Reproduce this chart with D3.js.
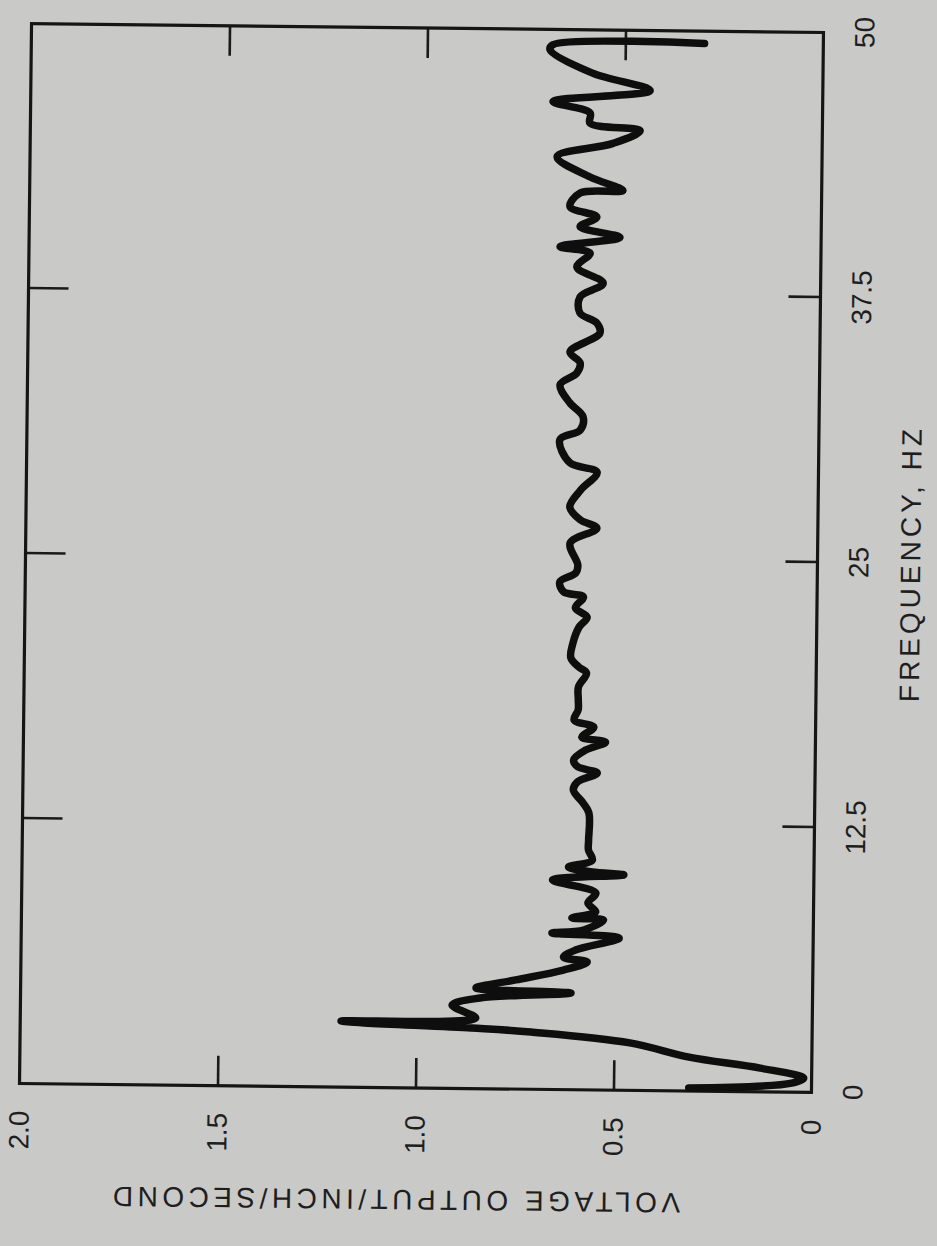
<!DOCTYPE html>
<html>
<head>
<meta charset="utf-8">
<script src="https://d3js.org/d3.v7.min.js"></script>
<style>
  body { margin: 0; background: #c9c9c7; }
  text { font-family: "Liberation Sans", Arial, sans-serif; fill: #1e1e1e; }
</style>
</head>
<body>
<div id="chart"></div>
<script>

// spectrum trace (frequency in Hz, voltage output per inch/second)
var freqHz = [0.15, 0.43, 0.67, 1.12, 1.6, 2.24, 2.7, 2.86, 3.12, 3.33,
  3.93, 4.28, 4.56, 4.75, 5.15, 5.64, 6.03, 6.25, 6.59, 7.18,
  7.38, 7.54, 8.02, 8.1, 8.4, 8.82, 9.29, 9.88, 10.16, 10.28,
  10.5, 10.84, 11.31, 11.78, 13.06, 13.53, 14.14, 14.52, 14.95, 15.24,
  15.56, 16.03, 16.41, 16.64, 17.11, 17.44, 17.92, 18.39, 19.0, 19.66,
  19.95, 20.37, 21.08, 21.83, 22.3, 22.73, 23.25, 23.48, 23.95, 24.38,
  24.75, 25.79, 26.5, 26.88, 27.49, 28.29, 29.14, 29.57, 30.65, 31.12,
  31.74, 32.4, 33.25, 33.81, 34.29, 34.8, 35.7, 36.18, 36.64, 37.4,
  38.06, 38.81, 39.47, 39.76, 40.23, 40.71, 41.18, 41.65, 42.3, 42.44,
  43.06, 44.0, 44.66, 45.27, 45.6, 46.08, 46.6, 47.17, 47.96, 49.04,
  49.28, 49.42];
var voltage = [0.31, 0.05, 0.02, 0.13, 0.31, 0.46, 0.71, 0.86, 1.19, 0.85,
  0.91, 0.84, 0.61, 0.85, 0.75, 0.63, 0.57, 0.63, 0.60, 0.49,
  0.66, 0.58, 0.53, 0.61, 0.55, 0.57, 0.55, 0.66, 0.48, 0.56,
  0.62, 0.56, 0.57, 0.57, 0.57, 0.585, 0.61, 0.60, 0.55, 0.60,
  0.61, 0.58, 0.53, 0.59, 0.56, 0.61, 0.60, 0.60, 0.60, 0.58,
  0.60, 0.62, 0.615, 0.60, 0.58, 0.61, 0.59, 0.64, 0.65, 0.61,
  0.605, 0.625, 0.558, 0.60, 0.627, 0.60, 0.559, 0.628, 0.654, 0.603,
  0.596, 0.63, 0.655, 0.613, 0.605, 0.631, 0.556, 0.564, 0.607, 0.607,
  0.549, 0.616, 0.583, 0.659, 0.508, 0.609, 0.567, 0.635, 0.61, 0.502,
  0.585, 0.669, 0.528, 0.46, 0.587, 0.587, 0.681, 0.436, 0.582, 0.69,
  0.683, 0.30];

var freqTicks = [0, 12.5, 25, 37.5, 50];
var freqLabels = ["0", "12.5", "25", "37.5", "50"];
var voltTicks = [0, 0.5, 1.0, 1.5, 2.0];
var voltLabels = ["0", "0.5", "1.0", "1.5", "2.0"];

var data = freqHz.map(function(f, i) { return {f: f, v: voltage[i]}; });

// the printed page is turned on its side, so the chart is drawn normally
// and the whole group is rotated (plus a slight scan skew)
var width = 1060, height = 792;
var left = 25.5, bottom = 1088;

var svg = d3.select("#chart")
  .append("svg")
    .attr("width", 937)
    .attr("height", 1246);

svg.append("rect")
  .attr("width", 937).attr("height", 1246)
  .attr("fill", "#c9c9c7");

var g = svg.append("g")
    .attr("transform", "rotate(0.65,421.5,558) translate(" + left + "," + bottom + ") rotate(-90)");

var x = d3.scaleLinear().domain([0, 50]).range([0, width]);
var y = d3.scaleLinear().domain([0, 2]).range([height, 0]);

// frequency axis with labels
var xAxis = g.append("g")
  .attr("transform", "translate(0," + height + ")")
  .call(d3.axisBottom(x)
    .tickValues(freqTicks)
    .tickFormat(function(d, i) { return freqLabels[i]; })
    .tickSize(-32)
    .tickSizeOuter(0)
    .tickPadding(31));
// mirror ticks on the opposite edge
var xTop = g.append("g")
  .call(d3.axisTop(x)
    .tickValues(freqTicks.slice(1, 4))
    .tickSize(-40)
    .tickSizeOuter(0)
    .tickFormat(""));

var yAxis = g.append("g")
  .call(d3.axisLeft(y)
    .tickValues(voltTicks)
    .tickFormat(function(d, i) { return voltLabels[i]; })
    .tickSize(-30)
    .tickSizeOuter(0)
    .tickPadding(27));
var yRight = g.append("g")
  .attr("transform", "translate(" + width + ",0)")
  .call(d3.axisRight(y)
    .tickValues(voltTicks.slice(1, 4))
    .tickSize(-30)
    .tickSizeOuter(0)
    .tickFormat(""));

g.selectAll(".domain").remove();
g.selectAll(".tick line").attr("stroke", "#1a1a1a").attr("stroke-width", 2.6);
g.selectAll(".tick text")
  .style("font-size", "28px")
  .attr("fill", "#1e1e1e");
// ticks on the corners are covered by the frame
xAxis.selectAll(".tick").filter(function(d) { return d === 0 || d === 50; }).select("line").remove();
yAxis.selectAll(".tick").filter(function(d) { return d === 0 || d === 2; }).select("line").remove();

// frame
g.append("rect")
  .attr("x", 0).attr("y", 0)
  .attr("width", width).attr("height", height)
  .attr("fill", "none")
  .attr("stroke", "#151515")
  .attr("stroke-width", 3.2);

// trace
var line = d3.line()
  .curve(d3.curveCatmullRom.alpha(0.5))
  .x(function(d) { return x(d.f); })
  .y(function(d) { return y(d.v); });

g.append("path")
  .datum(data)
  .attr("d", line)
  .attr("fill", "none")
  .attr("stroke", "#0e0e0e")
  .attr("stroke-width", 7.5)
  .attr("stroke-linejoin", "round")
  .attr("stroke-linecap", "round");

// axis titles
g.append("text")
  .attr("x", width / 2)
  .attr("y", height + 93)
  .attr("dy", "0.35em")
  .attr("text-anchor", "middle")
  .style("font-size", "28px")
  .style("letter-spacing", "4px")
  .text("FREQUENCY, HZ");

g.append("text")
  .attr("transform", "rotate(-90)")
  .attr("x", -(height / 2 - 20))
  .attr("y", -112)
  .attr("dy", "0.35em")
  .attr("text-anchor", "middle")
  .style("font-size", "28px")
  .style("letter-spacing", "4.5px")
  .text("VOLTAGE OUTPUT/INCH/SECOND");

</script>
</body>
</html>
